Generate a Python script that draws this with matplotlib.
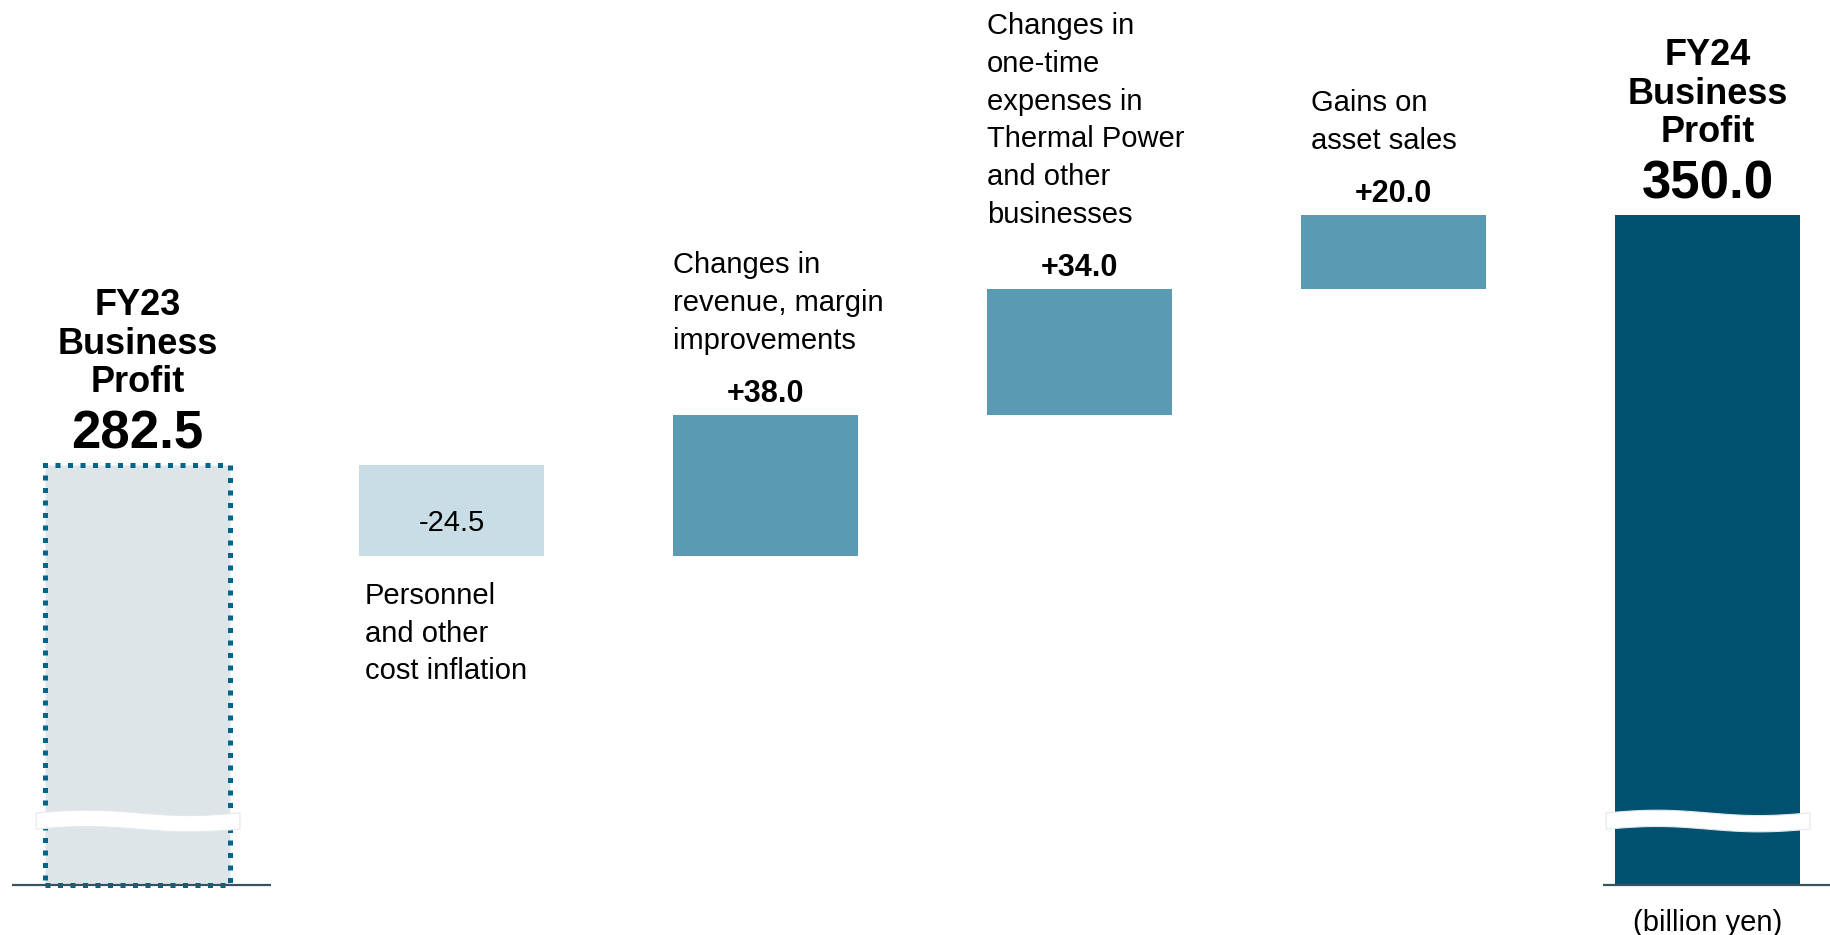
import matplotlib.pyplot as plt
import numpy as np

plt.rcParams['font.family'] = ['Liberation Sans', 'DejaVu Sans']

# data (billion yen)
start_value = 282.5
deltas = [-24.5, 38.0, 34.0, 20.0]
end_value = 350.0
value_labels = ["282.5", "-24.5", "+38.0", "+34.0", "+20.0", "350.0"]
total_titles = ["FY23\nBusiness\nProfit", "FY24\nBusiness\nProfit"]
step_labels = ["Personnel\nand other\ncost inflation",
               "Changes in\nrevenue, margin\nimprovements",
               "Changes in\none-time\nexpenses in\nThermal Power\nand other\nbusinesses",
               "Gains on\nasset sales"]

# broken axis: bars start from this level, not from zero
base = 169.0
break_at = 186.5

c_fy23_fill = "#dde5e9"
c_fy23_edge = "#00658b"
c_neg = "#c8dde6"
c_pos = "#5b9ab5"
c_fy24 = "#00516f"
c_axis = "#3a5260"

width = 0.589

fig = plt.figure(figsize=(18.31, 9.35), dpi=100)
ax = fig.add_axes([0, 0, 1, 1])
ax.set_xlim(-0.438, 5.393)
ax.set_ylim(155.6, 408.0)
ax.axis("off")

# start total
ax.bar(0, start_value - base, bottom=base, width=width, color=c_fy23_fill,
       edgecolor=c_fy23_edge, linewidth=3.6, linestyle=(0, (1, 1.5)),
       capstyle="butt", zorder=2)

# steps
levels = start_value + np.concatenate([[0], np.cumsum(deltas)])
for i, d in enumerate(deltas):
    x = i + 1
    lo = min(levels[i], levels[i + 1])
    hi = max(levels[i], levels[i + 1])
    ax.bar(x, hi - lo, bottom=lo, width=width,
           color=c_neg if d < 0 else c_pos, zorder=2)
    left = x - width / 2
    if d < 0:
        ax.annotate(value_labels[x], (x, (lo + hi) / 2), xytext=(0, -9),
                    textcoords="offset points", ha="center", va="center",
                    fontsize=21)
        ax.annotate(step_labels[i], (left, lo), xytext=(4.3, -18.7),
                    textcoords="offset points", ha="left", va="top",
                    fontsize=21, linespacing=1.45)
    else:
        ax.annotate(value_labels[x], (x, hi), xytext=(0, 9),
                    textcoords="offset points", ha="center", va="baseline",
                    fontsize=22, fontweight="bold")
        dx = 7 if i == 3 else 0
        ax.annotate(step_labels[i], (left, hi), xytext=(dx, 43),
                    textcoords="offset points", ha="left", va="bottom",
                    fontsize=21, linespacing=1.45)

# end total
ax.bar(5, end_value - base, bottom=base, width=width, color=c_fy24, zorder=2)

# totals labels
for x, v, title, lab in [(0, start_value, total_titles[0], value_labels[0]),
                         (5, end_value, total_titles[1], value_labels[5])]:
    ax.annotate(lab, (x, v), xytext=(0, 11.5), textcoords="offset points",
                ha="center", va="baseline", fontsize=38, fontweight="bold")
    ax.annotate(title, (x, v), xytext=(0, 46.5), textcoords="offset points",
                ha="center", va="bottom", fontsize=26, fontweight="bold",
                linespacing=1.13)

# axis stubs under the totals
ax.hlines(base, -0.40, 0.425, color=c_axis, lw=1.6, zorder=3)
ax.hlines(base, 4.667, 5.45, color=c_axis, lw=1.6, zorder=3)

# wavy break marks
t = np.linspace(0, 1, 80)
for x in (0, 5):
    xs = x - width / 2 - 0.03 + t * (width + 0.06)
    yc = break_at + 0.72 * np.sin(2 * np.pi * t)
    ax.fill_between(xs, yc - 2.2, yc + 2.2, facecolor="white",
                    edgecolor="#e3e8ea", linewidth=0.8, zorder=5)

ax.annotate("(billion yen)", (5, base), xytext=(0, -17),
            textcoords="offset points", ha="center", va="top", fontsize=21)

fig.savefig("out.png", dpi=100)
